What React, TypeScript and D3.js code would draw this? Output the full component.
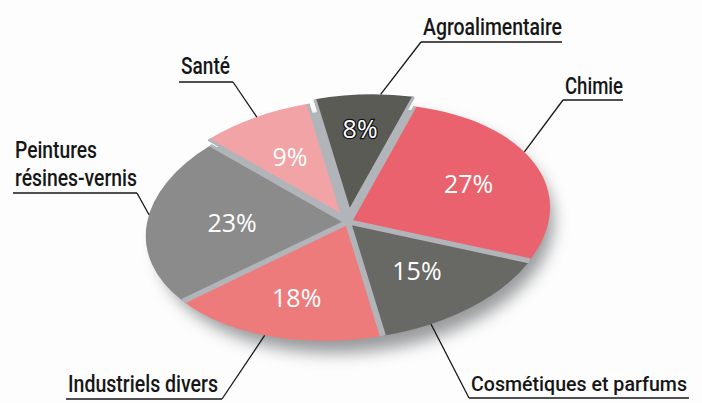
import * as d3 from "d3";

// secteurs, dans l'ordre du camembert (sens horaire depuis le haut)
const categories = [
  "Agroalimentaire",
  "Chimie",
  "Cosmétiques et parfums",
  "Industriels divers",
  "Peintures résines-vernis",
  "Santé",
];
const shares = [8, 27, 15, 18, 23, 9];
const pctLabels = ["8%", "27%", "15%", "18%", "23%", "9%"];
const labelLines = [
  ["Agroalimentaire"],
  ["Chimie"],
  ["Cosmétiques et parfums"],
  ["Industriels divers"],
  ["Peintures", "résines-vernis"],
  ["Santé"],
];

const sliceColors = ["#5b5b56", "#e9626d", "#686964", "#ee7b7c", "#8b8b8b", "#f1a3a5"];
const explode = [9, 1.5, 1.5, 1.5, 1.5, 6];
const leaderAt = [0.66, 0.43, 0.74, 0.53, 0.55, 0.52];
const pctRadius = [0.7, 0.64, 0.56, 0.66, 0.57, 0.6];

// boîtes des étiquettes (texte + soulignement + côté du trait de rappel)
const labelBoxes = [
  { x: 423, y: 35, w: [139], line: 42, x2: 562, from: "left" },
  { x: 565, y: 94, w: [58], line: 100, x2: 623, from: "left" },
  { x: 471, y: 391, w: [216], line: 398, x2: 689, from: "left" },
  { x: 68, y: 392, w: [150], line: 399, x2: 222, from: "right" },
  { x: 15, y: 158, w: [82, 122], line: 193, x2: 137, from: "right", lh: 28 },
  { x: 181, y: 74, w: [49], line: 82, x2: 233, from: "right" },
];

const W = 702;
const H = 403;
const cx = 348;
const cy = 222;
const rx = 200;
const ry = 116;
const R = 100;
const tilt = -6;
const gap = "#b1b5b9";

export default function App() {
  const t = (tilt * Math.PI) / 180;
  const start = (-6.5 * Math.PI) / 180;
  const pie = d3
    .pie<number>()
    .value((d) => d)
    .sort(null)
    .startAngle(start)
    .endAngle(start + 2 * Math.PI);
  const arcs = pie(shares);
  const arc = d3.arc<d3.PieArcDatum<number>>().innerRadius(0).outerRadius(R);

  // cercle unité -> ellipse inclinée à l'écran
  const project = (px: number, py: number) => {
    const sx = (px * rx) / R;
    const sy = (py * ry) / R;
    return [cx + sx * Math.cos(t) - sy * Math.sin(t), cy + sx * Math.sin(t) + sy * Math.cos(t)];
  };
  const polar = (a: number, r: number) => [r * Math.sin(a), -r * Math.cos(a)];

  const labelFont = "Roboto, 'Liberation Sans', sans-serif";

  return (
    <svg
      width={W}
      height={H}
      viewBox={`0 0 ${W} ${H}`}
      style={{ position: "fixed", left: 0, top: 0, background: "#fdfdfd" }}
    >
      <defs>
        <filter id="shadow" x="-30%" y="-30%" width="160%" height="160%">
          <feGaussianBlur stdDeviation={8} />
        </filter>
      </defs>

      {/* ombre + socle gris */}
      <ellipse
        cx={cx + 8}
        cy={cy + 12}
        rx={rx - 2}
        ry={ry + 2}
        fill="#76787b"
        opacity={0.75}
        filter="url(#shadow)"
        transform={`rotate(${tilt}, ${cx + 8}, ${cy + 12})`}
      />
      <ellipse
        cx={cx}
        cy={cy}
        rx={rx - 4}
        ry={ry - 3}
        fill={gap}
        transform={`rotate(${tilt}, ${cx}, ${cy})`}
      />

      {/* parts, avec les joints gris le long des rayons */}
      <g transform={`translate(${cx},${cy}) rotate(${tilt}) scale(${rx / R},${ry / R})`}>
        {arcs.map((a, i) => {
          const mid = (a.startAngle + a.endAngle) / 2;
          const [ex, ey] = polar(mid, explode[i]);
          const [ax, ay] = polar(a.startAngle, R);
          const [bx, by] = polar(a.endAngle, R);
          return (
            <g key={categories[i]} transform={`translate(${ex},${ey})`}>
              <path d={arc(a) ?? ""} fill={sliceColors[i]} />
              <path
                d={`M${ax},${ay}L0,0L${bx},${by}`}
                fill="none"
                stroke={gap}
                strokeWidth={3}
                strokeLinejoin="round"
                vectorEffect="non-scaling-stroke"
              />
            </g>
          );
        })}
      </g>

      {/* pourcentages */}
      {arcs.map((a, i) => {
        const mid = (a.startAngle + a.endAngle) / 2;
        const [ex, ey] = polar(mid, explode[i]);
        const [px, py] = polar(mid, R * pctRadius[i]);
        const [x, y] = project(px + ex, py + ey);
        const dark = i === 0;
        return (
          <text
            key={"p" + i}
            x={x}
            y={y}
            dy="0.36em"
            textAnchor="middle"
            fontFamily="'Open Sans', 'Noto Sans', sans-serif"
            fontSize={25}
            fill="#fff"
            stroke={dark ? "#111" : "none"}
            strokeWidth={dark ? 2.5 : 0}
            paintOrder="stroke"
          >
            {pctLabels[i]}
          </text>
        );
      })}

      {/* étiquettes et traits de rappel */}
      {arcs.map((a, i) => {
        const b = labelBoxes[i];
        const ang = a.startAngle + leaderAt[i] * (a.endAngle - a.startAngle);
        const mid = (a.startAngle + a.endAngle) / 2;
        const [ex, ey] = polar(mid, explode[i]);
        const [ox, oy] = polar(ang, R);
        const [tx, ty] = project(ox + ex, oy + ey);
        const sx = b.from === "left" ? b.x - 2 : b.x2;
        return (
          <g key={"l" + i}>
            {labelLines[i].map((ln, j) => (
              <text
                key={j}
                x={b.x}
                y={b.y + j * (b.lh ?? 0)}
                fontFamily={labelFont}
                fontWeight={500}
                fontSize={b.w[j] > 200 ? 21 : 24}
                fill="#161616"
                textLength={b.w[j]}
                lengthAdjust="spacingAndGlyphs"
              >
                {ln}
              </text>
            ))}
            <line x1={b.x - 2} x2={b.x2} y1={b.line} y2={b.line} stroke="#161616" strokeWidth={1.3} />
            <line x1={sx} y1={b.line} x2={tx} y2={ty} stroke="#161616" strokeWidth={1.3} />
          </g>
        );
      })}
    </svg>
  );
}
